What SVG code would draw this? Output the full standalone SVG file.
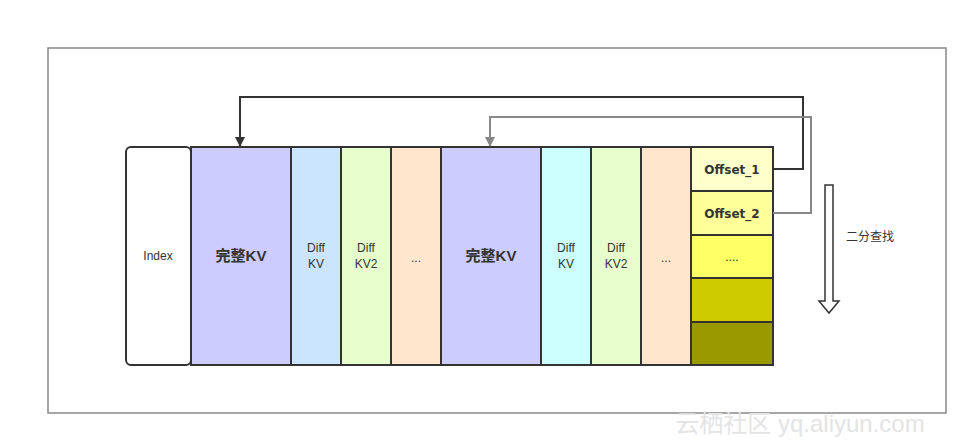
<svg xmlns="http://www.w3.org/2000/svg" width="979" height="446" viewBox="0 0 979 446">
<style>
.c{stroke:#333;stroke-width:2}
.t{font-family:"Liberation Sans","Noto Sans CJK SC",sans-serif;font-size:12px;fill:#333;text-anchor:middle}
.b{font-weight:bold;font-size:15px}
.o{font-family:"DejaVu Sans","Liberation Sans",sans-serif;font-weight:bold;font-size:12px;fill:#333;text-anchor:middle}
</style>
<defs>
<marker id="ab" markerWidth="10" markerHeight="10" refX="9" refY="5" orient="auto" markerUnits="userSpaceOnUse" viewBox="0 0 10 10"><path d="M0,0 L10,5 L0,10 Z" fill="#333"/></marker>
<marker id="ag" markerWidth="10" markerHeight="10" refX="9" refY="5" orient="auto" markerUnits="userSpaceOnUse" viewBox="0 0 10 10"><path d="M0,0 L10,5 L0,10 Z" fill="#888"/></marker>
</defs>
<rect width="979" height="446" fill="#fff"/>
<rect x="48" y="48" width="898" height="365" fill="none" stroke="#888" stroke-width="1.5"/>
<g id="index"><rect x="126" y="147" width="65" height="218" rx="5" fill="#fff" class="c"/><text class="t" x="158" y="260">Index</text></g>
<g id="kv1"><rect x="191" y="147" width="100" height="218" fill="#ccccff" class="c"/><text class="t b" x="241" y="261">完整KV</text></g>
<g id="diff1"><rect x="291" y="147" width="50" height="218" fill="#cce5ff" class="c"/><text class="t" x="316" y="252">Diff</text><text class="t" x="316" y="268">KV</text></g>
<g id="diff2"><rect x="341" y="147" width="50" height="218" fill="#e6ffcc" class="c"/><text class="t" x="366" y="252">Diff</text><text class="t" x="366" y="268">KV2</text></g>
<g id="dots1"><rect x="391" y="147" width="50" height="218" fill="#ffe6cc" class="c"/><text class="t" x="416" y="262" font-size="9">...</text></g>
<g id="kv2"><rect x="441" y="147" width="100" height="218" fill="#ccccff" class="c"/><text class="t b" x="491" y="261">完整KV</text></g>
<g id="diff3"><rect x="541" y="147" width="50" height="218" fill="#ccffff" class="c"/><text class="t" x="566" y="252">Diff</text><text class="t" x="566" y="268">KV</text></g>
<g id="diff4"><rect x="591" y="147" width="50" height="218" fill="#e6ffcc" class="c"/><text class="t" x="616" y="252">Diff</text><text class="t" x="616" y="268">KV2</text></g>
<g id="dots2"><rect x="641" y="147" width="50" height="218" fill="#ffe6cc" class="c"/><text class="t" x="666" y="262" font-size="9">...</text></g>
<g id="off1"><rect x="691" y="147" width="82" height="44" fill="#ffffcc" class="c"/><text class="o" x="732" y="174">Offset_1</text></g>
<g id="off2"><rect x="691" y="191" width="82" height="44" fill="#ffff99" class="c"/><text class="o" x="732" y="218">Offset_2</text></g>
<g id="off3"><rect x="691" y="235" width="82" height="43" fill="#ffff66" class="c"/><text class="t" x="732" y="261" font-size="9">....</text></g>
<g id="off4"><rect x="691" y="278" width="82" height="44" fill="#cccc00" class="c"/></g>
<g id="off5"><rect x="691" y="322" width="82" height="43" fill="#999900" class="c"/></g>
<g id="connectors" fill="none">
<path d="M773,169 H803 V97 H240 V146" stroke="#333" stroke-width="2" marker-end="url(#ab)"/>
<path d="M773,213 H811 V117 H490 V146" stroke="#888" stroke-width="2" marker-end="url(#ag)"/>
</g>
<g id="search">
<path d="M825,185 H833 V301 H839 L829,313 L819,301 H825 Z" fill="#fff" stroke="#333" stroke-width="1.5"/>
<text class="t" x="870" y="241" font-size="12">二分查找</text>
</g>
<text x="800" y="432" font-family="Liberation Sans,Noto Sans CJK SC,sans-serif" font-size="24" fill="#e4e4e4" text-anchor="middle">云栖社区 yq.aliyun.com</text>
</svg>
